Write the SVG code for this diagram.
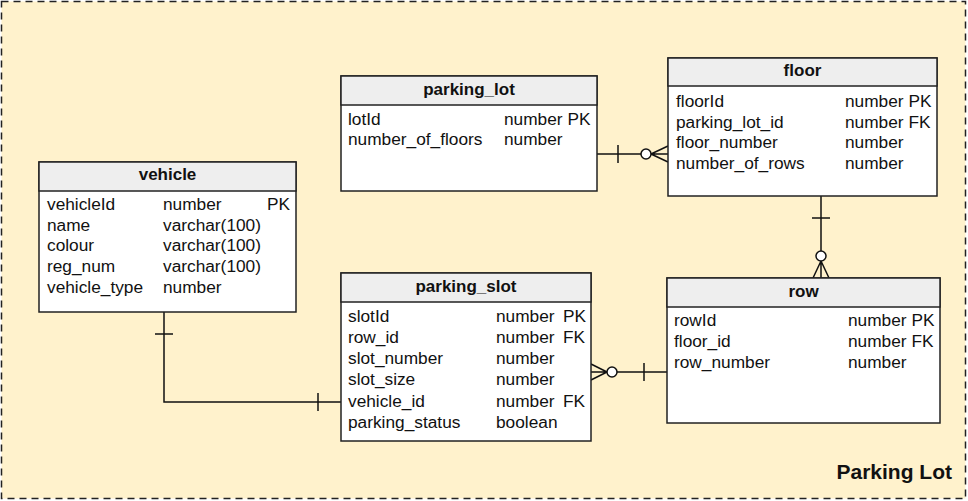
<svg xmlns="http://www.w3.org/2000/svg" width="968" height="501" viewBox="0 0 968 501">
<style>
.hdr{fill:#eeeeee;stroke:#222;stroke-width:1.5}
.body{fill:#ffffff;stroke:#222;stroke-width:1.5}
.t{font-family:"Liberation Sans",Arial,sans-serif;font-size:17.3px;fill:#111}
.h{font-family:"Liberation Sans",Arial,sans-serif;font-size:17px;font-weight:bold;fill:#111;text-anchor:middle}
.ln{fill:none;stroke:#111;stroke-width:1.5}
.c{fill:#ffffff;stroke:#111;stroke-width:1.5}
</style>
<rect x="1.5" y="1.5" width="964" height="497" fill="#fff2cc" stroke="#222" stroke-width="1.5" stroke-dasharray="7 5"/>
<text x="952" y="479" font-family="Liberation Sans,Arial,sans-serif" font-size="21" font-weight="bold" fill="#111" text-anchor="end">Parking Lot</text>

<g id="connectors">
  <!-- parking_lot to floor -->
  <path class="ln" d="M597 154 H641"/>
  <path class="ln" d="M618 145 V163"/>
  <path class="ln" d="M651 154 L668 146 M651 154 H668 M651 154 L668 162"/>
  <circle class="c" cx="646" cy="154" r="5"/>
  <!-- floor to row -->
  <path class="ln" d="M821 196 V251"/>
  <path class="ln" d="M812 218 H830"/>
  <path class="ln" d="M821 261 L813 278 M821 261 V278 M821 261 L829 278"/>
  <circle class="c" cx="821" cy="256" r="5"/>
  <!-- row to parking_slot -->
  <path class="ln" d="M667 372 H617"/>
  <path class="ln" d="M644 363 V381"/>
  <path class="ln" d="M607 372 L591 364 M607 372 H591 M607 372 L591 380"/>
  <circle class="c" cx="612" cy="372" r="5"/>
  <!-- vehicle to parking_slot -->
  <path class="ln" d="M164 312 V402 H341"/>
  <path class="ln" d="M155 334 H173"/>
  <path class="ln" d="M318 393 V411"/>
</g>

<g id="parking_lot">
  <rect class="body" x="341" y="76" width="256" height="115"/>
  <rect class="hdr" x="341" y="76" width="256" height="29"/>
  <text class="h" x="469" y="95">parking_lot</text>
  <text class="t" x="348" y="125">lotId</text><text class="t" x="504" y="125">number PK</text>
  <text class="t" x="348" y="145">number_of_floors</text><text class="t" x="504" y="145">number</text>
</g>

<g id="floor">
  <rect class="body" x="668" y="58" width="269" height="138"/>
  <rect class="hdr" x="668" y="58" width="269" height="28"/>
  <text class="h" x="802.5" y="76">floor</text>
  <text class="t" x="676" y="107">floorId</text><text class="t" x="845" y="107">number PK</text>
  <text class="t" x="676" y="127.5">parking_lot_id</text><text class="t" x="845" y="127.5">number FK</text>
  <text class="t" x="676" y="148">floor_number</text><text class="t" x="845" y="148">number</text>
  <text class="t" x="676" y="168.5">number_of_rows</text><text class="t" x="845" y="168.5">number</text>
</g>

<g id="vehicle">
  <rect class="body" x="39" y="162" width="257" height="150"/>
  <rect class="hdr" x="39" y="162" width="257" height="29"/>
  <text class="h" x="167.5" y="179.5">vehicle</text>
  <text class="t" x="47" y="210">vehicleId</text><text class="t" x="163" y="210">number</text><text class="t" x="290" y="210" text-anchor="end">PK</text>
  <text class="t" x="47" y="230.7">name</text><text class="t" x="163" y="230.7">varchar(100)</text>
  <text class="t" x="47" y="251.4">colour</text><text class="t" x="163" y="251.4">varchar(100)</text>
  <text class="t" x="47" y="272.1">reg_num</text><text class="t" x="163" y="272.1">varchar(100)</text>
  <text class="t" x="47" y="292.8">vehicle_type</text><text class="t" x="163" y="292.8">number</text>
</g>

<g id="parking_slot">
  <rect class="body" x="341" y="273" width="250" height="168"/>
  <rect class="hdr" x="341" y="273" width="250" height="29"/>
  <text class="h" x="466" y="292">parking_slot</text>
  <text class="t" x="348" y="322">slotId</text><text class="t" x="496" y="322">number</text><text class="t" x="563" y="322">PK</text>
  <text class="t" x="348" y="343">row_id</text><text class="t" x="496" y="343">number</text><text class="t" x="563" y="343">FK</text>
  <text class="t" x="348" y="364">slot_number</text><text class="t" x="496" y="364">number</text>
  <text class="t" x="348" y="385">slot_size</text><text class="t" x="496" y="385">number</text>
  <text class="t" x="348" y="406.5">vehicle_id</text><text class="t" x="496" y="406.5">number</text><text class="t" x="563" y="406.5">FK</text>
  <text class="t" x="348" y="427.5">parking_status</text><text class="t" x="496" y="427.5">boolean</text>
</g>

<g id="row">
  <rect class="body" x="667" y="278" width="273" height="145"/>
  <rect class="hdr" x="667" y="278" width="273" height="29"/>
  <text class="h" x="803.5" y="296.5">row</text>
  <text class="t" x="674" y="326">rowId</text><text class="t" x="848" y="326">number PK</text>
  <text class="t" x="674" y="347">floor_id</text><text class="t" x="848" y="347">number FK</text>
  <text class="t" x="674" y="368">row_number</text><text class="t" x="848" y="368">number</text>
</g>
</svg>
